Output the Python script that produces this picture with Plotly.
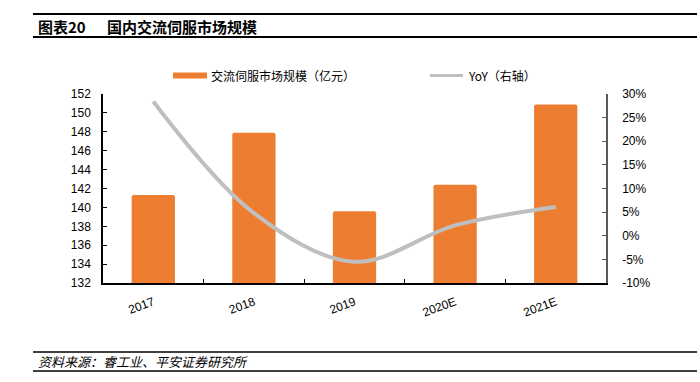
import plotly.graph_objects as go

categories = ["2017", "2018", "2019", "2020E", "2021E"]
market_size = [141.3, 147.9, 139.6, 142.4, 150.9]
yoy = [0.284, 0.048, -0.055, 0.022, 0.061]

bar_name = "交流伺服市场规模（亿元）"
line_name = "YoY（右轴）"
title_label = "图表20"
title_text = "国内交流伺服市场规模"
source_text = "资料来源：睿工业、平安证券研究所"

left_ticks = list(range(132, 153, 2))
right_ticks = [-0.10, -0.05, 0, 0.05, 0.10, 0.15, 0.20, 0.25, 0.30]
right_labels = ["-10%", "-5%", "0%", "5%", "10%", "15%", "20%", "25%", "30%"]

BAR_COLOR = "#ED7D31"
LINE_COLOR = "#BFBFBF"
CJK = "Noto Sans CJK SC"
LAT = "Liberation Sans, Arial, sans-serif"

fig = go.Figure()
fig.add_trace(go.Bar(
    x=categories, y=market_size, name=bar_name,
    marker=dict(color=BAR_COLOR, line=dict(width=0), cornerradius=2),
    width=0.43, showlegend=False,
))
fig.add_trace(go.Scatter(
    x=categories, y=yoy, name=line_name, yaxis="y2",
    mode="lines", line=dict(color=LINE_COLOR, width=4, shape="spline", smoothing=1.0),
    showlegend=False,
))

def px_x(x):
    return (x - 103) / 503

def px_y(y):
    return (283 - y) / 189

shapes = []
# title and footer rules
for y, w in [(14, 2), (37, 2), (352, 1.5), (371, 1.5)]:
    shapes.append(dict(type="line", xref="paper", yref="paper",
                       x0=px_x(33), x1=px_x(697), y0=px_y(y), y1=px_y(y),
                       line=dict(color="black", width=w)))
# legend swatches
shapes.append(dict(type="rect", xref="paper", yref="paper",
                   x0=px_x(173), x1=px_x(207), y0=px_y(78.5), y1=px_y(72.5),
                   fillcolor=BAR_COLOR, line=dict(width=0)))
shapes.append(dict(type="line", xref="paper", yref="paper",
                   x0=px_x(430), x1=px_x(463), y0=px_y(75.5), y1=px_y(75.5),
                   line=dict(color=LINE_COLOR, width=3)))

annotations = [
    dict(text="<b>" + title_label + "</b>", xref="paper", yref="paper",
         x=px_x(36), y=px_y(26), xanchor="left", yanchor="middle",
         showarrow=False, font=dict(family=CJK, size=15, color="black")),
    dict(text="<b>" + title_text + "</b>", xref="paper", yref="paper",
         x=px_x(105), y=px_y(26), xanchor="left", yanchor="middle",
         showarrow=False, font=dict(family=CJK, size=15, color="black")),
    dict(text="<i>" + source_text + "</i>", xref="paper", yref="paper",
         x=px_x(36), y=px_y(361.5), xanchor="left", yanchor="middle",
         showarrow=False, font=dict(family=CJK, size=13, color="black")),
    dict(text=bar_name, xref="paper", yref="paper",
         x=px_x(209), y=px_y(75.5), xanchor="left", yanchor="middle",
         showarrow=False, font=dict(family=CJK, size=12, color="black")),
    dict(text=line_name, xref="paper", yref="paper",
         x=px_x(466), y=px_y(75.5), xanchor="left", yanchor="middle",
         showarrow=False, font=dict(family=CJK, size=12, color="black")),
]

fig.update_layout(
    width=700, height=382,
    margin=dict(l=103, r=94, t=94, b=99, pad=0),
    paper_bgcolor="white", plot_bgcolor="white",
    shapes=shapes, annotations=annotations,
    bargap=0.57,
    xaxis=dict(
        type="category", showline=True, linecolor="black", linewidth=1.5,
        ticks="inside", ticklen=4, tickcolor="black", tickson="boundaries",
        tickangle=-20, tickfont=dict(family=LAT, size=12, color="black"),
        showgrid=False, zeroline=False, ticklabelstandoff=6,
    ),
    yaxis=dict(
        range=[132, 152], tickvals=left_ticks, showline=True, linecolor="black",
        linewidth=1.5, ticks="inside", ticklen=4, tickcolor="black",
        tickfont=dict(family=LAT, size=12, color="black"),
        showgrid=False, zeroline=False, ticklabelstandoff=8,
    ),
    yaxis2=dict(
        range=[-0.10, 0.30], tickvals=right_ticks, ticktext=right_labels,
        overlaying="y", side="right", showline=True, linecolor="#595959",
        linewidth=1.5, ticks="inside", ticklen=4, tickcolor="#595959",
        tickfont=dict(family=LAT, size=12, color="black"),
        showgrid=False, zeroline=False, ticklabelstandoff=12,
    ),
)

fig.write_html("out.html", config={"displayModeBar": False},
               post_script="document.body.style.margin='0px';")
